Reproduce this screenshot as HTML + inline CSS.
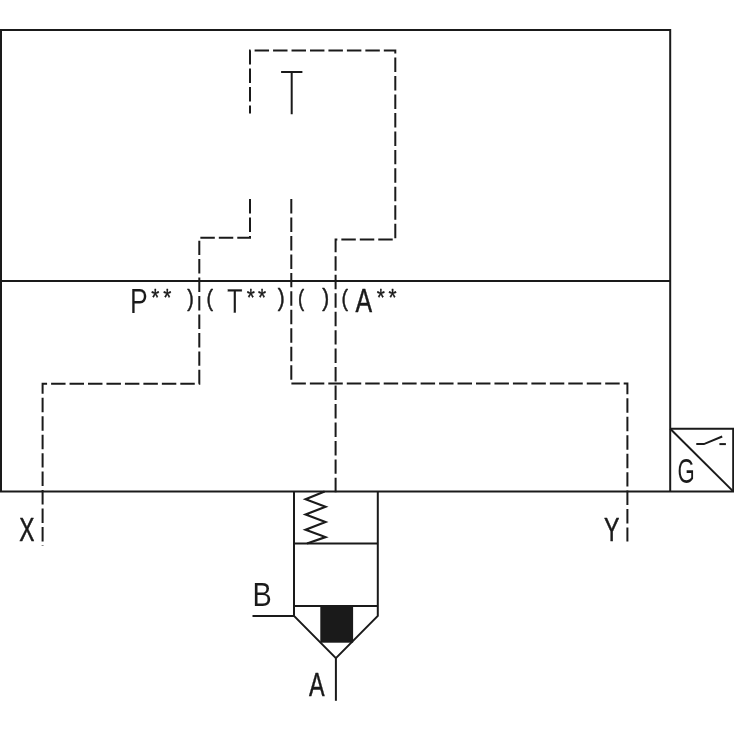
<!DOCTYPE html>
<html lang="en">
<head>
<meta charset="utf-8">
<title>Hydraulic symbol</title>
<style>
html,body{margin:0;padding:0;background:#fff;}
body{width:734px;height:734px;overflow:hidden;}
svg{display:block;filter:grayscale(1);}
.t text{font-family:"Liberation Sans",sans-serif;fill:#1a1a1a;}
.t .c{stroke:#fff;stroke-width:0.28;stroke-linejoin:round;}
.t .b{stroke:#fff;stroke-width:0.06;stroke-linejoin:round;}
.t .v{stroke:#1a1a1a;stroke-width:0.48;stroke-linejoin:round;}
.t .k{stroke:#1a1a1a;stroke-width:0.36;stroke-linejoin:round;}
.t .p{stroke:#1a1a1a;stroke-width:0.5;stroke-linejoin:round;}
.s{fill:none;stroke:#1a1a1a;stroke-width:2.0;stroke-linecap:butt;stroke-linejoin:miter;}
.d{fill:none;stroke:#1a1a1a;stroke-width:2.0;stroke-dasharray:14.46 4;stroke-linecap:butt;stroke-linejoin:miter;}
</style>
</head>
<body>
<svg width="734" height="734" viewBox="0 0 734 734">
<rect width="734" height="734" fill="#fff"/>
<g class="t" opacity="0.999">
<text class="b" font-size="34.24" transform="translate(129.99 312.73) scale(0.7769 1)">P</text>
<text class="k" font-size="23.76" transform="translate(151.14 306.12) scale(0.8762 1)">*</text>
<text class="k" font-size="23.76" transform="translate(163.24 306.12) scale(0.8762 1)">*</text>
<text class="p" font-size="23.51" transform="translate(187.14 306.08) scale(0.8343 1)">)</text>
<text class="p" font-size="23.51" transform="translate(206.53 306.08) scale(0.8343 1)">(</text>
<text class="c" font-size="34.56" transform="translate(227.08 312.84) scale(0.7409 1)">T</text>
<text class="k" font-size="23.76" transform="translate(246.84 306.12) scale(0.8762 1)">*</text>
<text class="k" font-size="23.76" transform="translate(258.09 306.12) scale(0.8762 1)">*</text>
<text class="p" font-size="23.51" transform="translate(277.83 306.08) scale(0.8825 1)">)</text>
<text class="p" font-size="23.51" transform="translate(297.90 306.08) scale(0.7862 1)">(</text>
<text class="p" font-size="23.51" transform="translate(322.33 306.08) scale(0.8825 1)">)</text>
<text class="p" font-size="23.51" transform="translate(341.53 306.08) scale(0.8343 1)">(</text>
<text class="v" font-size="33.46" transform="translate(355.59 312.46) scale(0.7446 1)">A</text>
<text class="k" font-size="23.76" transform="translate(376.84 306.12) scale(0.8762 1)">*</text>
<text class="k" font-size="23.76" transform="translate(388.44 306.12) scale(0.8762 1)">*</text>
<text class="v" font-size="33.61" transform="translate(19.13 540.96) scale(0.6786 1)">X</text>
<text class="v" font-size="33.61" transform="translate(603.93 540.96) scale(0.6887 1)">Y</text>
<text class="b" font-size="33.81" transform="translate(252.40 605.73) scale(0.8536 1)">B</text>
<text class="v" font-size="33.46" transform="translate(308.99 695.86) scale(0.6995 1)">A</text>
<text class="b" font-size="34.41" transform="translate(677.46 483.29) scale(0.6438 1)">G</text>
</g>
<g class="s">
<path d="M1,491.5 V30 H670.2 V491.5"/>
<path d="M0,491.45 H734"/>
<path d="M0,281.1 H670.2"/>
<path d="M670.2,428.8 H733.2 V491.5"/>
<path d="M670.2,428.8 L733.2,491.4"/>
<path d="M696.3,444.1 H703.9 L722.2,436.5"/>
<path d="M719.4,444.1 H725.9"/>
<path d="M281.1,72 H302.4 M291.7,72 V114.2"/>
<path d="M294,491.4 V615.9 L335.9,658.2 L377.8,615.9 V491.4"/>
<path d="M294,543.5 H377.8"/>
<path d="M294,606 H377.8"/>
<path d="M335.9,658.2 V700.8"/>
<path d="M252.5,615.9 H294"/>
<path stroke-width="2.15" d="M324.6,491.4 L305.6,499.3 L325.5,506.8 L305.6,514.5 L325.5,522.1 L305.6,529.8 L325.5,537.1 L307.0,543.5"/>
</g>
<rect x="320.3" y="605" width="32.8" height="37.7" fill="#1a1a1a"/>
<g class="d">
<path d="M250,199.05 V237.7 H199.3 V383.8 H42.6 V546"/>
<path d="M291.3,199.05 V383.55 H627.4 V541.5"/>
<path d="M335.6,492.3 V239.6 H395.3 V50.6 H250 V113.4"/>
</g>
</svg>
</body>
</html>
